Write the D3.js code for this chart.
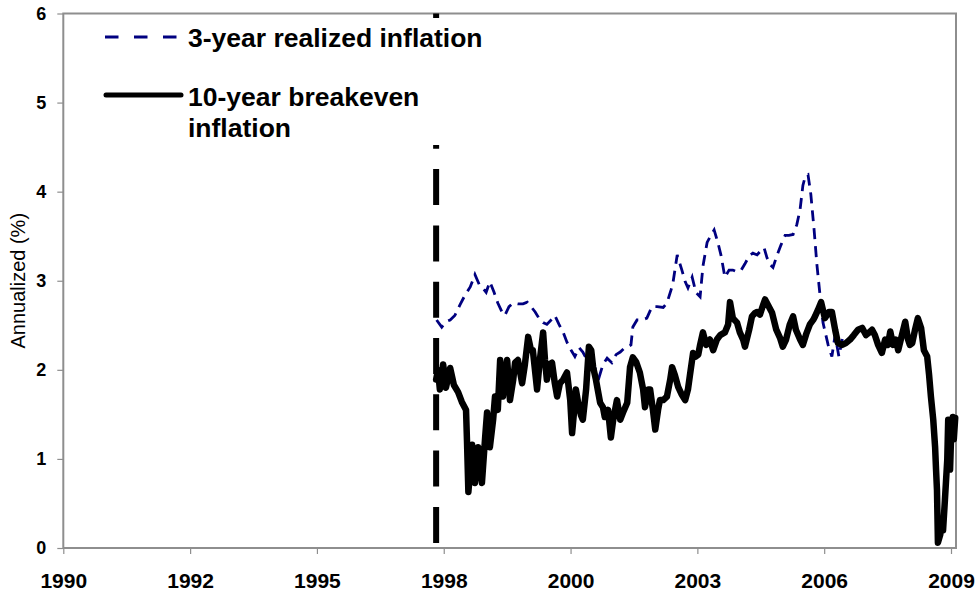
<!DOCTYPE html>
<html>
<head>
<meta charset="utf-8">
<script src="https://cdn.jsdelivr.net/npm/d3@7"></script>
<style>
  body { margin: 0; background: #fff; }
  text { font-family: "Liberation Sans", Arial, sans-serif; }
</style>
</head>
<body>
<script>
// axis labels
const xTickLabels = ["1990", "1992", "1995", "1998", "2000", "2003", "2006", "2009"];
const yTicks = [0, 1, 2, 3, 4, 5, 6];
const tipsStart = 1997.98;   // dashed vertical marker

// 3-year realized inflation (decimal years / %)
const realizedYears = [
  1997.99, 1998.10, 1998.19, 1998.28, 1998.38, 1998.49, 1998.60, 1998.71, 1998.81, 1998.90,
  1998.96, 1999.05, 1999.13, 1999.22, 1999.30, 1999.39, 1999.45, 1999.54, 1999.63, 1999.73,
  1999.84, 1999.93, 2000.01, 2000.10, 2000.18, 2000.27, 2000.35, 2000.44, 2000.52, 2000.61,
  2000.70, 2000.78, 2000.87, 2000.95, 2001.04, 2001.12, 2001.21, 2001.30, 2001.38, 2001.47,
  2001.55, 2001.64, 2001.74, 2001.83, 2001.92, 2002.00, 2002.09, 2002.15, 2002.19, 2002.28,
  2002.39, 2002.49, 2002.60, 2002.71, 2002.84, 2002.92, 2003.01, 2003.05, 2003.14, 2003.24,
  2003.31, 2003.37, 2003.46, 2003.54, 2003.63, 2003.69, 2003.78, 2003.86, 2003.93, 2004.01,
  2004.08, 2004.16, 2004.25, 2004.33, 2004.42, 2004.51, 2004.59, 2004.68, 2004.76, 2004.85,
  2004.93, 2005.00, 2005.06, 2005.13, 2005.19, 2005.28, 2005.36, 2005.45, 2005.53, 2005.62,
  2005.70, 2005.77, 2005.83, 2005.88, 2005.94, 2006.00, 2006.07, 2006.13, 2006.20, 2006.26,
  2006.37, 2006.45, 2006.52, 2006.60, 2006.69
];
const realizedValues = [
  2.56, 2.48, 2.54, 2.56, 2.61, 2.73, 2.84, 2.93, 3.07, 2.96,
  2.93, 2.87, 2.99, 2.87, 2.75, 2.65, 2.61, 2.71, 2.75, 2.74,
  2.74, 2.76, 2.71, 2.65, 2.58, 2.53, 2.51, 2.56, 2.61, 2.51,
  2.42, 2.31, 2.22, 2.15, 2.25, 2.20, 2.11, 2.11, 2.02, 1.92,
  2.06, 2.13, 2.08, 2.17, 2.20, 2.24, 2.26, 2.28, 2.48, 2.56,
  2.56, 2.58, 2.71, 2.71, 2.70, 2.75, 2.90, 2.98, 3.29, 3.12,
  2.99, 2.92, 3.04, 2.87, 2.82, 3.16, 3.43, 3.51, 3.57, 3.43,
  3.28, 3.04, 3.12, 3.12, 3.10, 3.12, 3.19, 3.28, 3.31, 3.29,
  3.34, 3.37, 3.26, 3.18, 3.15, 3.29, 3.40, 3.51, 3.51, 3.52,
  3.63, 3.80, 4.07, 4.17, 4.19, 3.97, 3.57, 3.18, 2.82, 2.53,
  2.28, 2.15, 2.39, 2.15, 2.39
];

// 10-year breakeven inflation (decimal years / %)
const breakevenYears = [
  1997.98, 1998.02, 1998.06, 1998.13, 1998.19, 1998.28, 1998.36, 1998.45, 1998.53, 1998.62,
  1998.64, 1998.67, 1998.71, 1998.75, 1998.81, 1998.88, 1998.96, 1999.03, 1999.07, 1999.13,
  1999.20, 1999.24, 1999.30, 1999.35, 1999.41, 1999.45, 1999.50, 1999.56, 1999.63, 1999.67,
  1999.73, 1999.82, 1999.88, 1999.95, 2000.01, 2000.05, 2000.14, 2000.20, 2000.27, 2000.31,
  2000.35, 2000.40, 2000.46, 2000.52, 2000.57, 2000.63, 2000.70, 2000.78, 2000.85, 2000.89,
  2000.93, 2000.97, 2001.02, 2001.08, 2001.12, 2001.19, 2001.25, 2001.30, 2001.34, 2001.40,
  2001.49, 2001.55, 2001.59, 2001.66, 2001.72, 2001.77, 2001.85, 2001.92, 2001.98, 2002.07,
  2002.13, 2002.19, 2002.26, 2002.34, 2002.41, 2002.45, 2002.52, 2002.56, 2002.62, 2002.67,
  2002.73, 2002.77, 2002.84, 2002.92, 2002.99, 2003.03, 2003.09, 2003.16, 2003.24, 2003.31,
  2003.37, 2003.41, 2003.48, 2003.54, 2003.59, 2003.63, 2003.69, 2003.76, 2003.84, 2003.91,
  2003.99, 2004.06, 2004.16, 2004.23, 2004.27, 2004.33, 2004.42, 2004.48, 2004.55, 2004.59,
  2004.68, 2004.74, 2004.81, 2004.85, 2004.91, 2004.98, 2005.02, 2005.08, 2005.17, 2005.26,
  2005.34, 2005.40, 2005.47, 2005.55, 2005.62, 2005.68, 2005.77, 2005.83, 2005.90, 2005.98,
  2006.05, 2006.09, 2006.15, 2006.22, 2006.30, 2006.39, 2006.45, 2006.52, 2006.58, 2006.67,
  2006.75, 2006.84, 2006.92, 2007.01, 2007.10, 2007.18, 2007.25, 2007.31, 2007.37, 2007.44,
  2007.52, 2007.59, 2007.65, 2007.70, 2007.76, 2007.82, 2007.87, 2007.95, 2008.02, 2008.08,
  2008.12, 2008.17, 2008.23, 2008.29, 2008.36, 2008.42, 2008.49, 2008.53, 2008.57, 2008.62,
  2008.66, 2008.68, 2008.70, 2008.72, 2008.77, 2008.81, 2008.83, 2008.87, 2008.92, 2008.94,
  2008.96, 2008.98, 2009.00, 2009.02, 2009.04, 2009.06, 2009.09
];
const breakevenValues = [
  1.89, 2.00, 1.78, 2.06, 1.80, 2.02, 1.83, 1.75, 1.64, 1.55,
  1.21, 0.63, 0.88, 1.16, 0.73, 1.13, 0.73, 1.25, 1.52, 1.13,
  1.44, 1.70, 1.55, 2.11, 1.70, 1.94, 2.11, 1.66, 1.89, 2.08,
  2.11, 1.85, 2.06, 2.37, 2.22, 2.22, 1.78, 2.11, 2.42, 2.11,
  1.89, 2.06, 2.08, 1.85, 1.70, 1.85, 1.89, 1.97, 1.66, 1.29,
  1.52, 1.78, 1.63, 1.49, 1.44, 1.78, 2.26, 2.22, 2.03, 1.89,
  1.63, 1.58, 1.47, 1.55, 1.24, 1.44, 1.66, 1.44, 1.52, 1.63,
  2.03, 2.14, 2.09, 1.97, 1.78, 1.58, 1.78, 1.78, 1.55, 1.33,
  1.55, 1.66, 1.66, 1.70, 1.89, 2.03, 1.94, 1.81, 1.72, 1.66,
  1.78, 1.93, 2.19, 2.15, 2.17, 2.28, 2.42, 2.28, 2.34, 2.22,
  2.34, 2.39, 2.42, 2.51, 2.76, 2.58, 2.53, 2.42, 2.34, 2.26,
  2.45, 2.60, 2.64, 2.65, 2.62, 2.73, 2.79, 2.73, 2.64, 2.45,
  2.36, 2.26, 2.34, 2.51, 2.60, 2.45, 2.34, 2.28, 2.40, 2.51,
  2.56, 2.60, 2.67, 2.76, 2.58, 2.65, 2.65, 2.45, 2.30, 2.28,
  2.30, 2.34, 2.39, 2.45, 2.47, 2.39, 2.42, 2.45, 2.39, 2.28,
  2.19, 2.34, 2.28, 2.43, 2.28, 2.34, 2.22, 2.39, 2.54, 2.34,
  2.28, 2.30, 2.45, 2.58, 2.47, 2.22, 2.15, 1.95, 1.70, 1.44,
  1.13, 0.88, 0.65, 0.06, 0.15, 0.32, 0.20, 0.54, 0.99, 1.44,
  1.16, 0.88, 1.22, 1.33, 1.47, 1.22, 1.46
];

const realized = realizedYears.map((t, i) => ({ t, v: realizedValues[i] }));
const breakeven = breakevenYears.map((t, i) => ({ t, v: breakevenValues[i] }));

const width = 979;
const height = 597;
const plot = { left: 63.3, top: 13.5, right: 956, bottom: 548 };
const gridGray = "#8e8e8e";

const svg = d3.select("body")
  .append("svg")
  .attr("width", width)
  .attr("height", height);

svg.append("rect")
  .attr("width", width)
  .attr("height", height)
  .attr("fill", "#fff");

// last label sits a little inside the right border
const x = d3.scaleLinear()
  .domain([1990, 2009])
  .range([plot.left, 951]);

const y = d3.scaleLinear()
  .domain([0, 6])
  .range([plot.bottom, plot.top]);

// plot frame
svg.append("rect")
  .attr("x", plot.left)
  .attr("y", plot.top)
  .attr("width", plot.right - plot.left)
  .attr("height", plot.bottom - plot.top)
  .attr("fill", "none")
  .attr("stroke", gridGray)
  .attr("stroke-width", 2);

const yAxis = d3.axisLeft(y)
  .tickValues(yTicks)
  .tickFormat(d3.format("d"))
  .tickSize(6)
  .tickPadding(11);

svg.append("g")
  .attr("transform", `translate(${plot.left},0)`)
  .call(yAxis)
  .call(g => g.select(".domain").remove())
  .call(g => g.selectAll("line").attr("stroke", gridGray).attr("stroke-width", 1.2))
  .call(g => g.selectAll("text")
    .attr("font-family", "'Liberation Sans', Arial, sans-serif")
    .attr("font-size", 18)
    .attr("font-weight", "bold")
    .attr("fill", "#000"));

const xTickValues = xTickLabels.map((d, i) => 1990 + i * 19 / (xTickLabels.length - 1));

const xAxis = d3.axisBottom(x)
  .tickValues(xTickValues)
  .tickFormat((d, i) => xTickLabels[i])
  .tickSize(6)
  .tickPadding(19);

svg.append("g")
  .attr("transform", `translate(0,${plot.bottom})`)
  .call(xAxis)
  .call(g => g.select(".domain").remove())
  .call(g => g.selectAll("line").attr("stroke", gridGray).attr("stroke-width", 1.2))
  .call(g => g.selectAll("text")
    .attr("font-family", "'Liberation Sans', Arial, sans-serif")
    .attr("font-size", 21)
    .attr("font-weight", "bold")
    .attr("fill", "#000"));

// y title
svg.append("text")
  .attr("transform", `translate(25,${(plot.top + plot.bottom) / 2}) rotate(-90)`)
  .attr("text-anchor", "middle")
  .attr("font-size", 20)
  .attr("fill", "#000")
  .text("Annualized (%)");

// vertical marker where the breakeven series starts
svg.append("line")
  .attr("x1", x(tipsStart))
  .attr("x2", x(tipsStart))
  .attr("y1", y(6))
  .attr("y2", y(0))
  .attr("stroke", "#000")
  .attr("stroke-width", 6)
  .attr("stroke-dasharray", "36,20.3")
  .attr("stroke-dashoffset", 13.3);

// legend (white box hides the marker behind it)
const legend = svg.append("g");

legend.append("rect")
  .attr("x", 92)
  .attr("y", 18)
  .attr("width", 400)
  .attr("height", 127)
  .attr("fill", "#fff");

legend.append("line")
  .attr("x1", 105).attr("x2", 178)
  .attr("y1", 37).attr("y2", 37)
  .attr("stroke", "#000080")
  .attr("stroke-width", 3)
  .attr("stroke-dasharray", "13.5,15.5");

legend.append("line")
  .attr("x1", 106).attr("x2", 181)
  .attr("y1", 95).attr("y2", 95)
  .attr("stroke", "#000")
  .attr("stroke-width", 5)
  .attr("stroke-linecap", "round");

const legendText = legend.append("g")
  .attr("font-size", 26.5)
  .attr("font-weight", "bold")
  .attr("fill", "#000");

legendText.append("text").attr("x", 188).attr("y", 47).text("3-year realized inflation");
legendText.append("text").attr("x", 188).attr("y", 106).text("10-year breakeven");
legendText.append("text").attr("x", 188).attr("y", 137).text("inflation");

// series
const line = d3.line()
  .x(d => x(d.t))
  .y(d => y(d.v));

svg.append("path")
  .datum(realized)
  .attr("d", line)
  .attr("fill", "none")
  .attr("stroke", "#000080")
  .attr("stroke-width", 2.8)
  .attr("stroke-dasharray", "11,7");

svg.append("path")
  .datum(breakeven)
  .attr("d", line)
  .attr("fill", "none")
  .attr("stroke", "#000")
  .attr("stroke-width", 6.5)
  .attr("stroke-linejoin", "round")
  .attr("stroke-linecap", "round");
</script>
</body>
</html>
